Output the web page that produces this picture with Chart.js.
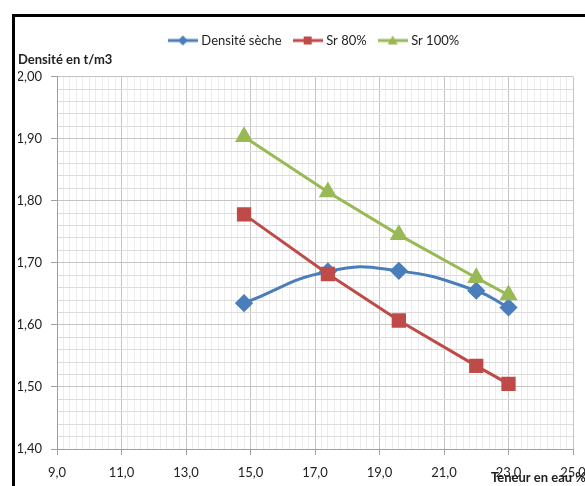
<!DOCTYPE html>
<html>
<head>
<meta charset="utf-8">
<script src="https://cdn.jsdelivr.net/npm/chart.js@4.4.1/dist/chart.umd.min.js"></script>
<style>
  html, body { margin: 0; padding: 0; background: #fff; }
  #wrap { position: relative; width: 585px; height: 486px; overflow: hidden; }
  #frame { position: absolute; left: 12px; top: 14px; width: 620px; height: 520px;
           border-left: 3px solid #000; border-top: 3px solid #000; }
  #c { position: absolute; left: 0; top: 0; }
</style>
</head>
<body>
<div id="wrap"><div id="frame"></div><canvas id="c" width="585" height="486"></canvas></div>
<script>
/*--Data--*/
var teneur = [14.8, 17.4, 19.6, 22.0, 23.0];
var densiteSeche = [1.635, 1.686, 1.687, 1.655, 1.628];
var sr80 = [1.778, 1.682, 1.607, 1.534, 1.505];
var sr100 = [1.903, 1.814, 1.745, 1.676, 1.648];
var seriesNames = ['Densité sèche', 'Sr 80%', 'Sr 100%'];
var seriesColors = ['#4a7ebb', '#be4b48', '#98b954'];
var yTitle = 'Densité en t/m3';
var xTitle = 'Teneur en eau %';
/*--------*/

var FONT = 'Lato';

function pts(ys) {
  return teneur.map(function (x, i) { return { x: x, y: ys[i] }; });
}

function isMajorX(v) { var q = (v - 9) / 2; return Math.abs(q - Math.round(q)) < 1e-6; }
function isMajorY(v) { var q = v * 10; return Math.abs(q - Math.round(q)) < 1e-6; }

// small legend icon: line with marker in the middle (Excel style)
function legendIcon(color, shape) {
  var cv = document.createElement('canvas');
  cv.width = 30; cv.height = 14;
  var g = cv.getContext('2d');
  g.strokeStyle = color; g.lineWidth = 3;
  g.beginPath(); g.moveTo(0, 7); g.lineTo(30, 7); g.stroke();
  g.fillStyle = color;
  g.beginPath();
  if (shape === 'diamond') {
    g.moveTo(15, 2); g.lineTo(20, 7); g.lineTo(15, 12); g.lineTo(10, 7);
  } else if (shape === 'square') {
    g.rect(11, 3, 8, 8);
  } else {
    g.moveTo(15, 2); g.lineTo(20, 11); g.lineTo(10, 11);
  }
  g.closePath(); g.fill();
  return cv;
}
var icons = [legendIcon(seriesColors[0], 'diamond'), legendIcon(seriesColors[1], 'square'), legendIcon(seriesColors[2], 'triangle')];

var axisTitle = {
  id: 'axisTitle',
  afterDraw: function (chart) {
    var ctx = chart.ctx, a = chart.chartArea;
    ctx.save();
    ctx.font = 'bold 13px ' + FONT;
    ctx.fillStyle = '#222';
    ctx.textBaseline = 'alphabetic';
    ctx.fillText(xTitle, a.right - 82, a.bottom + 33);
    ctx.restore();
  }
};

var chart = new Chart('c', {
  type: 'line',
  data: {
    datasets: [
      {
        label: seriesNames[0], data: pts(densiteSeche),
        borderColor: seriesColors[0], backgroundColor: seriesColors[0],
        borderWidth: 3, tension: 0.5, pointStyle: 'rectRot', pointRadius: 7, order: 3
      },
      {
        label: seriesNames[1], data: pts(sr80),
        borderColor: seriesColors[1], backgroundColor: seriesColors[1],
        borderWidth: 3, tension: 0, pointStyle: 'rect', pointRadius: 8, order: 2
      },
      {
        label: seriesNames[2], data: pts(sr100),
        borderColor: seriesColors[2], backgroundColor: seriesColors[2],
        borderWidth: 3, tension: 0, pointStyle: 'triangle', pointRadius: 7.5, order: 1
      }
    ]
  },
  options: {
    responsive: false,
    animation: false,
    layout: { padding: { top: 20, left: 18, right: 12, bottom: 0 } },
    plugins: {
      tooltip: { enabled: false },
      legend: {
        position: 'top',
        fullSize: false,
        maxHeight: 32,
        labels: {
          usePointStyle: true,
          pointStyleWidth: 24,
          padding: 14,
          color: '#222',
          font: { family: FONT, size: 13 },
          generateLabels: function (ch) {
            return ch.data.datasets.map(function (ds, i) {
              return { text: ds.label, pointStyle: icons[i], fillStyle: ds.borderColor,
                       strokeStyle: ds.borderColor, lineWidth: 0, hidden: false,
                       datasetIndex: i, fontColor: '#222' };
            });
          }
        }
      },
      title: {
        display: true,
        text: yTitle,
        align: 'start',
        weight: 500,
        color: '#222',
        font: { family: FONT, size: 13, weight: 'bold' },
        padding: { top: 0, bottom: 9 }
      }
    },
    scales: {
      x: {
        type: 'linear',
        min: 9, max: 25,
        afterFit: function (s) { s.height = 37; s.paddingLeft = 0; s.paddingRight = 0; },
        border: { color: '#a0a0a0', width: 1 },
        grid: {
          color: function (c) { return isMajorX(c.tick.value) ? '#c4c4c4' : '#ececec'; },
          tickColor: function (c) { return isMajorX(c.tick.value) ? '#a0a0a0' : 'rgba(0,0,0,0)'; },
          tickLength: 6
        },
        ticks: {
          stepSize: 0.2,
          autoSkip: false,
          maxRotation: 0, minRotation: 0,
          padding: 10,
          color: '#222',
          font: { family: FONT, size: 13 },
          callback: function (v) { return isMajorX(v) ? v.toFixed(1).replace('.', ',') : ''; }
        }
      },
      y: {
        min: 1.4, max: 2.0,
        afterFit: function (s) { s.width = 39; s.paddingTop = 0; s.paddingBottom = 0; },
        border: { color: '#a0a0a0', width: 1 },
        grid: {
          color: function (c) { return isMajorY(c.tick.value) ? '#c4c4c4' : '#dcdcdc'; },
          tickColor: function (c) { return isMajorY(c.tick.value) ? '#a0a0a0' : 'rgba(0,0,0,0)'; },
          tickLength: 6
        },
        ticks: {
          stepSize: 0.02,
          autoSkip: false,
          padding: 9,
          color: '#222',
          font: { family: FONT, size: 13 },
          callback: function (v) { return isMajorY(v) ? v.toFixed(2).replace('.', ',') : ''; }
        }
      }
    }
  },
  plugins: [axisTitle]
});
</script>
</body>
</html>
